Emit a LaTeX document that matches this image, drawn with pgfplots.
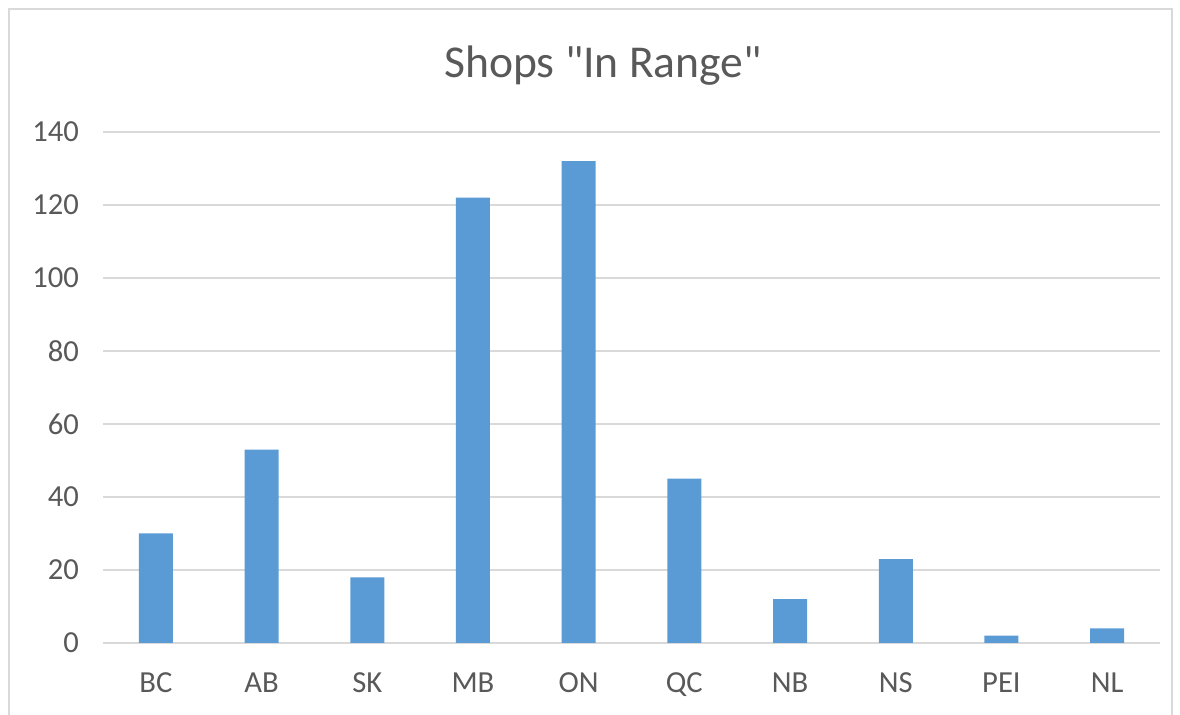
\documentclass[border=0pt]{standalone}
\usepackage{pgfplots}
\pgfplotsset{compat=1.18}
\usepackage{fontspec}
\setmainfont{Carlito}
\newfontfamily\titlefont{Carlito}
\definecolor{barblue}{HTML}{5B9BD5}
\definecolor{txtgray}{HTML}{595959}
\definecolor{gridgray}{HTML}{D9D9D9}
\definecolor{framegray}{HTML}{D9D9D9}
\begin{document}
\begin{tikzpicture}
\path[use as bounding box] (0pt,0pt) rectangle (590pt,357.5pt);
\draw[framegray, line width=1.2pt] (4.5pt,0pt) -- (4.5pt,353pt) -- (586pt,353pt) -- (586pt,0pt);
\node[font=\titlefont\fontsize{22.8}{27}\selectfont, text=txtgray] at (301.5pt,324.5pt) {Shops "In Range"};
\begin{axis}[
  at={(51.5pt,36pt)}, anchor=south west,
  width=528.5pt, height=255.5pt, scale only axis,
  xmin=-0.5, xmax=9.5, ymin=0, ymax=140,
  ytick={0,20,...,140},
  xtick={0,...,9},
  xticklabels={BC,AB,SK,MB,ON,QC,NB,NS,PEI,NL},
  axis line style={draw=none},
  major tick length=0pt,
  ymajorgrids, grid style={gridgray, line width=0.8pt},
  ticklabel style={font=\fontsize{15.3}{18}\selectfont, text=txtgray},
  yticklabel style={xshift=-8.5pt},
  xticklabel style={yshift=-11.5pt},
  /pgf/number format/assume math mode=true,
  ybar, bar width=17pt,
]
\addplot[fill=barblue, draw=none, bar shift=0pt] coordinates {
(0,30) (1,53) (2,18) (3,122) (4,132) (5,45) (6,12) (7,23) (8,2) (9,4)
};
\end{axis}
\end{tikzpicture}
\end{document}
